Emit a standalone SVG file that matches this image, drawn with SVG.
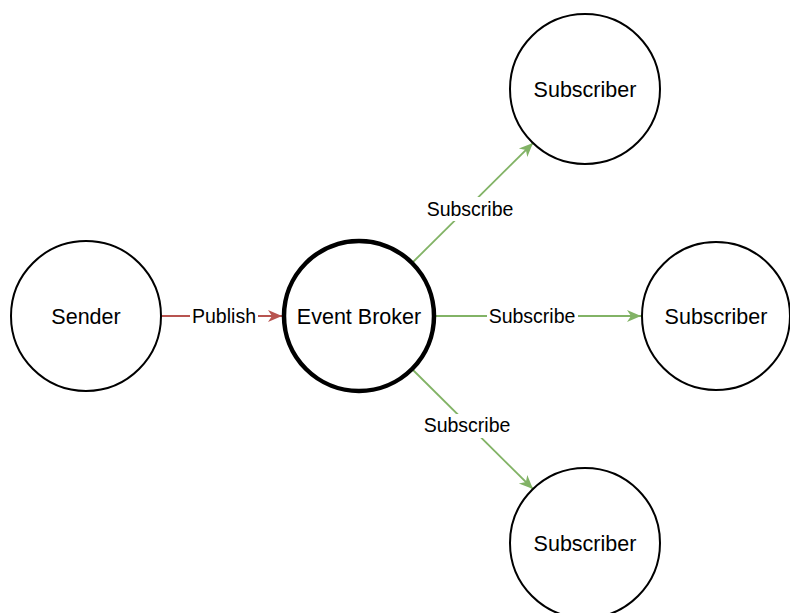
<svg xmlns="http://www.w3.org/2000/svg" width="790" height="613" viewBox="0 0 790 613">
<style>
.node{fill:#fff;stroke:#000;stroke-width:2}
.broker{fill:#fff;stroke:#000;stroke-width:4.5}
.nt{font-family:"Liberation Sans",Arial,sans-serif;font-size:21.5px;fill:#000;text-anchor:middle}
.et{font-family:"Liberation Sans",Arial,sans-serif;font-size:19.5px;fill:#000;text-anchor:middle}
.red{stroke:#b85450;stroke-width:1.8;fill:none}
.green{stroke:#82b366;stroke-width:1.8;fill:none}
.bg{fill:#fff}
</style>
<defs>
<marker id="ar" markerUnits="userSpaceOnUse" markerWidth="16" markerHeight="16" refX="15" refY="8" orient="auto">
<path d="M1,2 L15,8 L1,14 L5,8 Z" fill="#b85450"/>
</marker>
<marker id="ag" markerUnits="userSpaceOnUse" markerWidth="16" markerHeight="16" refX="15" refY="8" orient="auto">
<path d="M1,2 L15,8 L1,14 L5,8 Z" fill="#82b366"/>
</marker>
</defs>
<rect width="790" height="613" fill="#fff"/>
<g id="connectors">
<g id="e-publish">
<line class="red" x1="162" y1="316" x2="282" y2="316" marker-end="url(#ar)"/>
<rect class="bg" x="190" y="304" width="68" height="24"/>
<text class="et" x="224" y="323">Publish</text>
</g>
<g id="e-sub-right">
<line class="green" x1="436" y1="316" x2="641" y2="316" marker-end="url(#ag)"/>
<rect class="bg" x="487" y="304" width="91" height="24"/>
<text class="et" x="532" y="323">Subscribe</text>
</g>
<g id="e-sub-top">
<line class="green" x1="413" y1="262" x2="533" y2="143" marker-end="url(#ag)"/>
<rect class="bg" x="424" y="197" width="92" height="24"/>
<text class="et" x="470" y="215.5">Subscribe</text>
</g>
<g id="e-sub-bottom">
<line class="green" x1="413" y1="370" x2="533" y2="489" marker-end="url(#ag)"/>
<rect class="bg" x="421" y="414" width="92" height="24"/>
<text class="et" x="467" y="432">Subscribe</text>
</g>
</g>
<g id="sender">
<circle class="node" cx="86" cy="316" r="75"/>
<text class="nt" x="86" y="324">Sender</text>
</g>
<g id="broker">
<circle class="broker" cx="359" cy="316" r="75"/>
<text class="nt" x="359" y="324">Event Broker</text>
</g>
<g id="sub-top">
<circle class="node" cx="585" cy="89" r="75"/>
<text class="nt" x="585" y="97">Subscriber</text>
</g>
<g id="sub-right">
<circle class="node" cx="716" cy="316" r="74"/>
<text class="nt" x="716" y="324">Subscriber</text>
</g>
<g id="sub-bottom">
<circle class="node" cx="585" cy="543" r="75"/>
<text class="nt" x="585" y="551">Subscriber</text>
</g>
</svg>
